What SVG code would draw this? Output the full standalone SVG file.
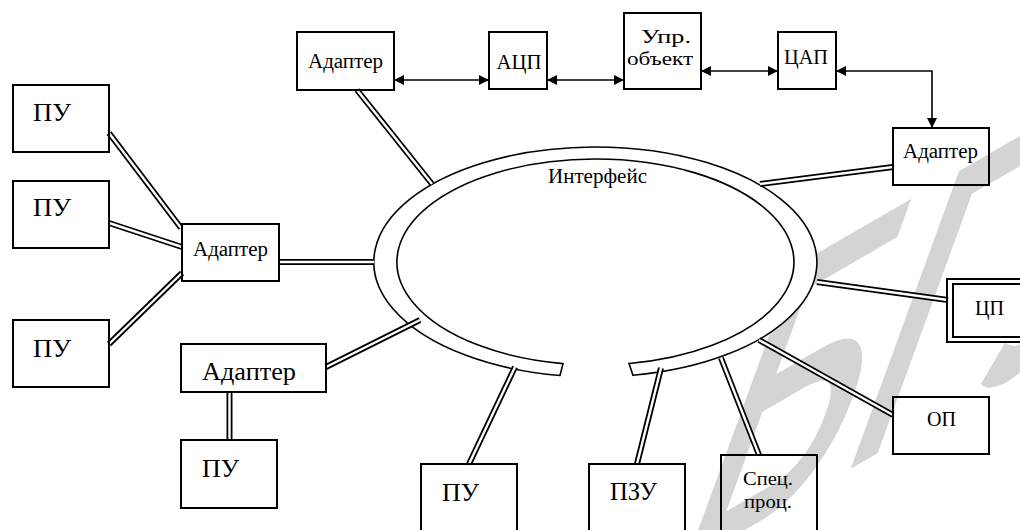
<svg xmlns="http://www.w3.org/2000/svg" width="1020" height="530" viewBox="0 0 1020 530">
  <defs>
    <marker id="arrow" viewBox="0 0 10 10" refX="10" refY="5" markerWidth="10" markerHeight="10" markerUnits="userSpaceOnUse" orient="auto-start-reverse">
      <path d="M0,0 L10,5 L0,10 z" fill="#000"/>
    </marker>
    <style>
      .box { fill: none; stroke: #000; stroke-width: 2; }
      .lbl { font-family: "Liberation Serif", "DejaVu Serif", serif; fill: #000; }
      .s19 { font-size: 19px; }
      .s20 { font-size: 20px; }
      .s21 { font-size: 21px; }
      .s25 { font-size: 25px; }
      .s26 { font-size: 26px; }
      .c { text-anchor: middle; }
      .bus-outer { stroke: #000; stroke-width: 6; fill: none; }
      .bus-inner { stroke: #fff; stroke-width: 2.4; fill: none; }
      .sig { stroke: #000; stroke-width: 1.6; fill: none; marker-start: url(#arrow); marker-end: url(#arrow); }
      .ring { fill: #fff; stroke: #000; stroke-width: 1.6; }
      .wm { font-family: "Liberation Sans", Arial, sans-serif; font-size: 290px; fill: #d4d4d4; stroke: #d4d4d4; stroke-width: 4; }
    </style>
  </defs>

  <rect width="1020" height="530" fill="#fff"/>

  <!-- background watermark -->
  <text class="wm" transform="translate(668,572) rotate(-30) skewX(-50)">БГУ</text>

  <!-- interface ring -->
  <g id="interface">
    <path class="ring" d="M560,375.5 A221.5,115 0 1 1 633,375.3 L629,363.5 A198.5,103 0 1 0 563,363.6 Z"/>
    <text class="lbl s20 c" x="597.5" y="183" textLength="99" lengthAdjust="spacingAndGlyphs">Интерфейс</text>
  </g>

  <!-- bus connectors (double lines) and signal arrows -->
  <g id="connectors">
    <g class="bus">
      <path id="b1" d="M357,90 L432,184"/>
      <path id="b2" d="M893,167 L760,184"/>
      <path id="b3" d="M109,133 L181,228"/>
      <path id="b4" d="M109,223 L182,247"/>
      <path id="b5" d="M109,344 L182,273"/>
      <path id="b6" d="M279,262 L374,262"/>
      <path id="b7" d="M326,367 L420,320"/>
      <path id="b8" d="M229.5,392 L229.5,440"/>
      <path id="b9" d="M515,367 L469,464"/>
      <path id="b10" d="M661,368 L637,464"/>
      <path id="b11" d="M721,358 L759,455"/>
      <path id="b12" d="M759,340 L893,415"/>
      <path id="b13" d="M817,282 L948,300"/>
    </g>
    <g>
      <use href="#b1" class="bus-outer"/><use href="#b1" class="bus-inner"/>
      <use href="#b2" class="bus-outer"/><use href="#b2" class="bus-inner"/>
      <use href="#b3" class="bus-outer"/><use href="#b3" class="bus-inner"/>
      <use href="#b4" class="bus-outer"/><use href="#b4" class="bus-inner"/>
      <use href="#b5" class="bus-outer"/><use href="#b5" class="bus-inner"/>
      <use href="#b6" class="bus-outer"/><use href="#b6" class="bus-inner"/>
      <use href="#b7" class="bus-outer"/><use href="#b7" class="bus-inner"/>
      <use href="#b8" class="bus-outer"/><use href="#b8" class="bus-inner"/>
      <use href="#b9" class="bus-outer"/><use href="#b9" class="bus-inner"/>
      <use href="#b10" class="bus-outer"/><use href="#b10" class="bus-inner"/>
      <use href="#b11" class="bus-outer"/><use href="#b11" class="bus-inner"/>
      <use href="#b12" class="bus-outer"/><use href="#b12" class="bus-inner"/>
      <use href="#b13" class="bus-outer"/><use href="#b13" class="bus-inner"/>
    </g>
    <path class="sig" d="M394,80 L489,80"/>
    <path class="sig" d="M547,80 L624,80"/>
    <path class="sig" d="M701,71 L778,71"/>
    <path class="sig" d="M836,71 L932,71 L932,128"/>
  </g>

  <!-- top chain -->
  <g id="adapter-top">
    <rect class="box" x="297" y="32" width="97" height="58"/>
    <text class="lbl s20 c" x="345.5" y="68" textLength="75" lengthAdjust="spacingAndGlyphs">Адаптер</text>
  </g>
  <g id="adc">
    <rect class="box" x="489" y="32" width="58" height="57"/>
    <text class="lbl s21 c" x="519" y="69" textLength="45" lengthAdjust="spacingAndGlyphs">АЦП</text>
  </g>
  <g id="object">
    <rect class="box" x="624" y="13" width="77" height="76"/>
    <text class="lbl s19 c" x="666" y="43" textLength="50" lengthAdjust="spacingAndGlyphs">Упр.</text>
    <text class="lbl s19 c" x="660" y="65" textLength="66" lengthAdjust="spacingAndGlyphs">объект</text>
  </g>
  <g id="dac">
    <rect class="box" x="778" y="32" width="58" height="57"/>
    <text class="lbl s21 c" x="806" y="64" textLength="44" lengthAdjust="spacingAndGlyphs">ЦАП</text>
  </g>
  <g id="adapter-right">
    <rect class="box" x="893" y="128" width="96" height="57"/>
    <text class="lbl s20 c" x="940.5" y="158" textLength="75" lengthAdjust="spacingAndGlyphs">Адаптер</text>
  </g>

  <!-- left group -->
  <g id="pu-1">
    <rect class="box" x="13" y="85" width="96" height="67"/>
    <text class="lbl s26" x="33" y="121" textLength="38" lengthAdjust="spacingAndGlyphs">ПУ</text>
  </g>
  <g id="pu-2">
    <rect class="box" x="13" y="181" width="96" height="67"/>
    <text class="lbl s26" x="33" y="216" textLength="38" lengthAdjust="spacingAndGlyphs">ПУ</text>
  </g>
  <g id="pu-3">
    <rect class="box" x="13" y="320" width="96" height="67"/>
    <text class="lbl s26" x="33" y="357" textLength="38" lengthAdjust="spacingAndGlyphs">ПУ</text>
  </g>
  <g id="adapter-left">
    <rect class="box" x="182" y="224" width="97" height="57"/>
    <text class="lbl s20 c" x="230.5" y="256" textLength="75" lengthAdjust="spacingAndGlyphs">Адаптер</text>
  </g>
  <g id="adapter-low">
    <rect class="box" x="181" y="344" width="145" height="48"/>
    <text class="lbl s25" x="202" y="380" textLength="94" lengthAdjust="spacingAndGlyphs">Адаптер</text>
  </g>
  <g id="pu-4">
    <rect class="box" x="181" y="440" width="96" height="68"/>
    <text class="lbl s26" x="202" y="477" textLength="37" lengthAdjust="spacingAndGlyphs">ПУ</text>
  </g>

  <!-- bottom group -->
  <g id="pu-5">
    <rect class="box" x="421" y="464" width="96" height="80"/>
    <text class="lbl s26" x="442" y="501" textLength="37" lengthAdjust="spacingAndGlyphs">ПУ</text>
  </g>
  <g id="rom">
    <rect class="box" x="589" y="464" width="96" height="80"/>
    <text class="lbl s26" x="610" y="500" textLength="47" lengthAdjust="spacingAndGlyphs">ПЗУ</text>
  </g>
  <g id="coproc">
    <rect class="box" x="721" y="455" width="96" height="90"/>
    <text class="lbl s19 c" x="768" y="485" textLength="50" lengthAdjust="spacingAndGlyphs">Спец.</text>
    <text class="lbl s19 c" x="768" y="508" textLength="48" lengthAdjust="spacingAndGlyphs">проц.</text>
  </g>

  <!-- right group -->
  <g id="ram">
    <rect class="box" x="893" y="397" width="96" height="57"/>
    <text class="lbl s20 c" x="941.5" y="426" textLength="29" lengthAdjust="spacingAndGlyphs">ОП</text>
  </g>
  <g id="cpu">
    <rect class="box" x="947" y="279" width="90" height="63"/>
    <rect class="box" x="953" y="284" width="80" height="53"/>
    <text class="lbl s21" x="975" y="315" textLength="29" lengthAdjust="spacingAndGlyphs">ЦП</text>
  </g>
</svg>
